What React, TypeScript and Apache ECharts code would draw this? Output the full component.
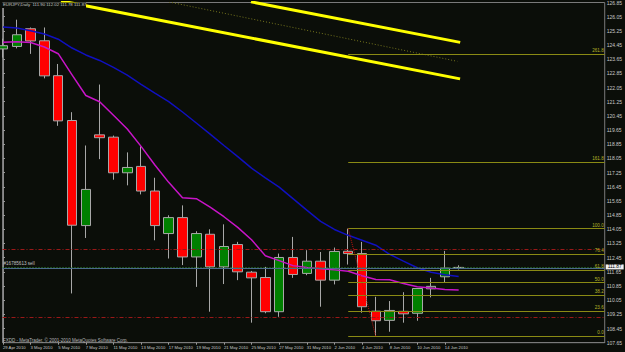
import React, { useEffect, useRef } from "react";
import * as echarts from "echarts";

const dates = ["29 Apr 2010","30 Apr 2010","3 May 2010","4 May 2010","5 May 2010","6 May 2010","7 May 2010","10 May 2010","11 May 2010","12 May 2010","13 May 2010","14 May 2010","17 May 2010","18 May 2010","19 May 2010","20 May 2010","21 May 2010","24 May 2010","25 May 2010","26 May 2010","27 May 2010","28 May 2010","31 May 2010","1 Jun 2010","2 Jun 2010","3 Jun 2010","4 Jun 2010","7 Jun 2010","8 Jun 2010","9 Jun 2010","10 Jun 2010","11 Jun 2010","14 Jun 2010","15 Jun 2010"];
const opens = [124.23,124.37,125.37,124.69,122.72,120.19,114.26,119.38,119.25,117.24,117.60,116.21,113.81,114.71,112.49,113.77,111.93,113.19,111.63,111.33,109.40,112.46,111.56,112.25,111.18,112.81,112.68,109.43,108.91,109.42,109.31,110.69,111.37,111.90];
const closes = [124.41,125.03,124.68,122.71,120.17,114.28,116.30,119.22,117.24,117.54,116.21,114.26,114.71,112.49,113.81,111.93,113.08,111.65,111.31,109.40,112.46,111.50,112.25,111.18,112.80,112.68,109.68,108.89,109.47,109.28,110.71,110.83,111.86,111.87];
const lows = [123.74,124.26,123.95,122.57,119.89,110.43,113.56,118.01,116.85,116.53,116.02,113.43,112.40,112.03,110.80,109.40,110.96,111.18,108.78,109.31,109.11,111.31,111.46,109.68,110.94,112.06,109.34,107.99,108.27,108.78,108.89,110.21,111.03,111.78];
const highs = [124.81,125.88,125.44,125.44,123.38,120.66,118.78,122.22,119.34,118.39,118.73,116.96,114.84,115.40,113.94,114.05,114.33,113.34,111.70,111.93,112.68,113.62,112.87,112.77,113.02,114.09,113.34,110.24,110.00,110.50,110.73,111.31,112.83,112.02];
const maBlue = [125.47,125.41,125.26,125.07,124.78,124.28,123.89,123.58,123.19,122.75,122.23,121.73,121.26,120.67,120.05,119.42,118.78,118.15,117.50,116.95,116.43,115.78,115.13,114.50,114.04,113.71,113.43,113.15,112.64,112.25,111.88,111.63,111.49,111.38];
const maMagenta = [124.60,124.64,124.59,124.34,123.96,122.77,121.60,121.25,120.49,119.71,118.73,117.68,116.70,115.83,115.78,115.30,114.76,114.16,113.46,112.56,112.28,112.00,111.90,111.83,111.76,111.68,111.43,111.22,111.20,110.99,110.81,110.74,110.65,110.62];
const yTicks = [107.65,108.45,109.25,110.05,110.85,111.65,112.45,113.25,114.05,114.85,115.65,116.45,117.25,118.05,118.85,119.65,120.45,121.25,122.05,122.85,123.65,124.45,125.25,126.05,126.85];
const xTickIdx = [0,2,4,6,8,10,12,14,16,18,20,22,24,26,28,30,32];
const fibLevels = ["0.0","23.6","38.2","50.0","61.8","76.4","100.0","161.8","261.8"];
const fibRatios = [0,0.236,0.382,0.5,0.618,0.764,1,1.618,2.618];
const fibLowIdx = 27, fibHighIdx = 25;
const fibLow = 108.0, fibHigh = 114.09;
const redLevels = [112.91, 109.10];
const bidPrice = 111.87;
const orderPrice = 111.91;
const orderText = "#16785613 sell";
const trendUpper = [[17.96, 126.89],[33.11, 124.60]];
const trendLower = [[4.2, 126.94],[33.1, 122.54]];
const trendDotted = [[11.6, 126.95],[32.9, 123.53]];
const titleText = "EURJPY,Daily  111.90 112.02 111.78 111.87";
const footerText = "FXDD - MetaTrader, \u00a9 2001-2010 MetaQuotes Software Corp.";

const FONT = "'Liberation Sans', Arial, sans-serif";

export default function App() {
  const ref = useRef<HTMLDivElement>(null);
  useEffect(() => {
    if (!ref.current) return;
    const chart = echarts.init(ref.current, null, { renderer: "svg" });
    const gridLeft = 1, gridRight = 16.5;
    const step = 13.93;
    const plotW = 625 - gridLeft - gridRight;
    const xMin = (gridLeft - 1.5) / step;
    const xMax = xMin + plotW / step;
    const candle = dates.map((_, i) => [i, opens[i], closes[i], lows[i], highs[i]]);
    const fibRange = fibHigh - fibLow;
    const fibLines = fibRatios.map((r, k) => {
      const p = fibLow + r * fibRange;
      return [
        { coord: [fibHighIdx, p], label: { formatter: fibLevels[k] } },
        { coord: [xMax, p] },
      ];
    });
    const option: any = {
      animation: false,
      backgroundColor: "#0b0e09",
      textStyle: { fontFamily: FONT },
      grid: { left: gridLeft, right: gridRight, top: 1.7, bottom: 9.3, show: true, borderColor: "#7a7a7a", borderWidth: 1, backgroundColor: "transparent" },
      xAxis: {
        type: "value", min: xMin, max: xMax,
        axisLine: { show: true, lineStyle: { color: "#7a7a7a" } },
        splitLine: { show: false },
        axisTick: { show: true, customValues: xTickIdx, length: 2, lineStyle: { color: "#9a9a9a" } },
        axisLabel: {
          customValues: xTickIdx, formatter: (v: number) => dates[Math.round(v)] || "",
          align: "left", fontSize: 4.2, color: "#c8c8c8", margin: 3, fontFamily: FONT,
        },
      },
      yAxis: {
        type: "value", position: "right", min: 107.65, max: 126.85, scale: true,
        axisLine: { show: true, lineStyle: { color: "#8a8a8a" } },
        splitLine: { show: false },
        axisTick: { show: true, customValues: yTicks, length: 2, lineStyle: { color: "#9a9a9a" } },
        axisLabel: { customValues: yTicks, formatter: (v: number) => v.toFixed(2), fontSize: 5, lineHeight: 4, color: "#c8c8c8", margin: 2, fontFamily: FONT },
      },
      series: [
        {
          type: "line", data: [[fibHighIdx, fibHigh]], symbol: "none", silent: true, z: 1,
          lineStyle: { width: 0 },
          markLine: {
            silent: true, symbol: "none", animation: false,
            lineStyle: { color: "#8a8a14", width: 1, type: "solid" },
            label: { show: true, position: "insideEndTop", color: "#b4b428", fontSize: 4.6, distance: 1, fontFamily: FONT },
            data: [
              ...fibLines,
              [
                { coord: [fibHighIdx, fibHigh], lineStyle: { color: "#c01010", type: "dotted" }, label: { show: false } },
                { coord: [fibLowIdx, fibLow] },
              ],
            ],
          },
        },
        {
          type: "line", data: [[0, bidPrice]], symbol: "none", silent: true, z: 1,
          lineStyle: { width: 0 },
          markLine: {
            silent: true, symbol: "none", animation: false,
            data: [
              ...redLevels.map((v) => ({ yAxis: v, lineStyle: { color: "#9a1818", type: [4, 2, 1, 2], width: 1 }, label: { show: false } })),
              { yAxis: orderPrice, lineStyle: { color: "#2c8a2c", type: [1, 2], width: 1 }, label: { show: true, position: "insideStartTop", formatter: orderText, color: "#c0c0c0", fontSize: 4.6, distance: 1, fontFamily: FONT } },
              { yAxis: bidPrice, lineStyle: { color: "#4a6a8c", type: "solid", width: 1 }, label: { show: true, position: "end", formatter: bidPrice.toFixed(2), color: "#000000", backgroundColor: "#f0f0f0", fontSize: 4.8, distance: 1, padding: [0, 2], lineHeight: 5, offset: [0, -1], fontFamily: FONT } },
            ],
          },
        },
        {
          type: "candlestick", data: candle, encode: { x: 0, y: [1, 2, 3, 4] }, barWidth: 10, clip: false, z: 2,
          itemStyle: { color: "#008000", color0: "#ff0000", borderColor: "#a8a8a8", borderColor0: "#a8a8a8", borderWidth: 1 },
        },
        { type: "line", data: maBlue.map((v, i) => [i, v]), symbol: "none", z: 3, lineStyle: { color: "#1010c0", width: 1.5 } },
        { type: "line", data: maMagenta.map((v, i) => [i, v]), symbol: "none", z: 3, lineStyle: { color: "#c814c8", width: 1.5 } },
        { type: "line", data: trendUpper, symbol: "none", z: 4, lineStyle: { color: "#ffff00", width: 3 } },
        { type: "line", data: trendLower, symbol: "none", z: 4, lineStyle: { color: "#ffff00", width: 3 } },
        { type: "line", data: trendDotted, symbol: "none", z: 4, lineStyle: { color: "#76761e", width: 1, type: [1, 2] } },
      ],
      graphic: [
        { type: "rect", left: 2, top: 2.5, shape: { width: 84, height: 5.5 }, style: { fill: "#0b0e09" }, z: 10 },
        { type: "text", left: 3, top: 2.8, z: 11, style: { text: titleText, fill: "#c8c8c8", fontSize: 4.3, fontFamily: FONT } },
        { type: "text", left: 3, top: 337.8, z: 11, style: { text: footerText, fill: "#b8b8b8", fontSize: 4.5, fontFamily: FONT } },
      ],
    };
    chart.setOption(option);
    return () => chart.dispose();
  }, []);
  return <div ref={ref} style={{ position: "absolute", left: 0, top: 0, width: 625, height: 352 }} />;
}
